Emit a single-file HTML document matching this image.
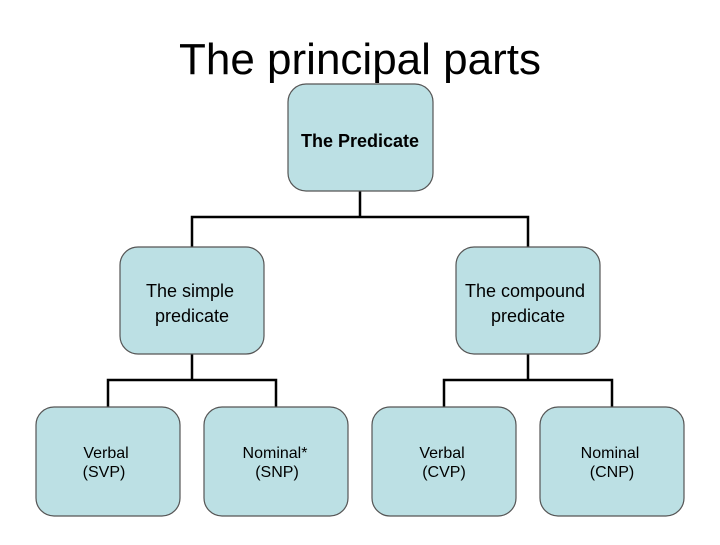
<!DOCTYPE html>
<html><head><style>
body{margin:0;background:#fff;}
svg text{font-family:"Liberation Sans",sans-serif;}
</style></head><body>
<svg width="720" height="540" xmlns="http://www.w3.org/2000/svg">
<text x="360" y="74" font-size="44" text-anchor="middle" fill="#000">The principal parts</text>
<g stroke="#000" stroke-width="2.5" fill="none">
<path d="M360 191V217M192 247V217H528V247"/>
<path d="M192 354V380M108 407V380H276V407"/>
<path d="M528 354V380M444 407V380H612V407"/>
</g>
<g fill="#bce0e4" stroke="#555" stroke-width="1.2">
<rect x="288" y="84" width="145" height="107" rx="18"/>
<rect x="120" y="247" width="144" height="107" rx="18"/>
<rect x="456" y="247" width="144" height="107" rx="18"/>
<rect x="36" y="407" width="144" height="109" rx="18"/>
<rect x="204" y="407" width="144" height="109" rx="18"/>
<rect x="372" y="407" width="144" height="109" rx="18"/>
<rect x="540" y="407" width="144" height="109" rx="18"/>
</g>
<g fill="#000" text-anchor="middle">
<text x="360" y="147" font-size="18" font-weight="bold">The Predicate</text>
<text x="190" y="297" font-size="18">The simple</text>
<text x="192" y="322" font-size="18">predicate</text>
<text x="525" y="297" font-size="18">The compound</text>
<text x="528" y="322" font-size="18">predicate</text>
<g font-size="16">
<text x="106" y="458">Verbal</text><text x="104" y="477">(SVP)</text>
<text x="275" y="458">Nominal*</text><text x="277" y="477">(SNP)</text>
<text x="442" y="458">Verbal</text><text x="444" y="477">(CVP)</text>
<text x="610" y="458">Nominal</text><text x="612" y="477">(CNP)</text>
</g>
</g>
</svg>
</body></html>
